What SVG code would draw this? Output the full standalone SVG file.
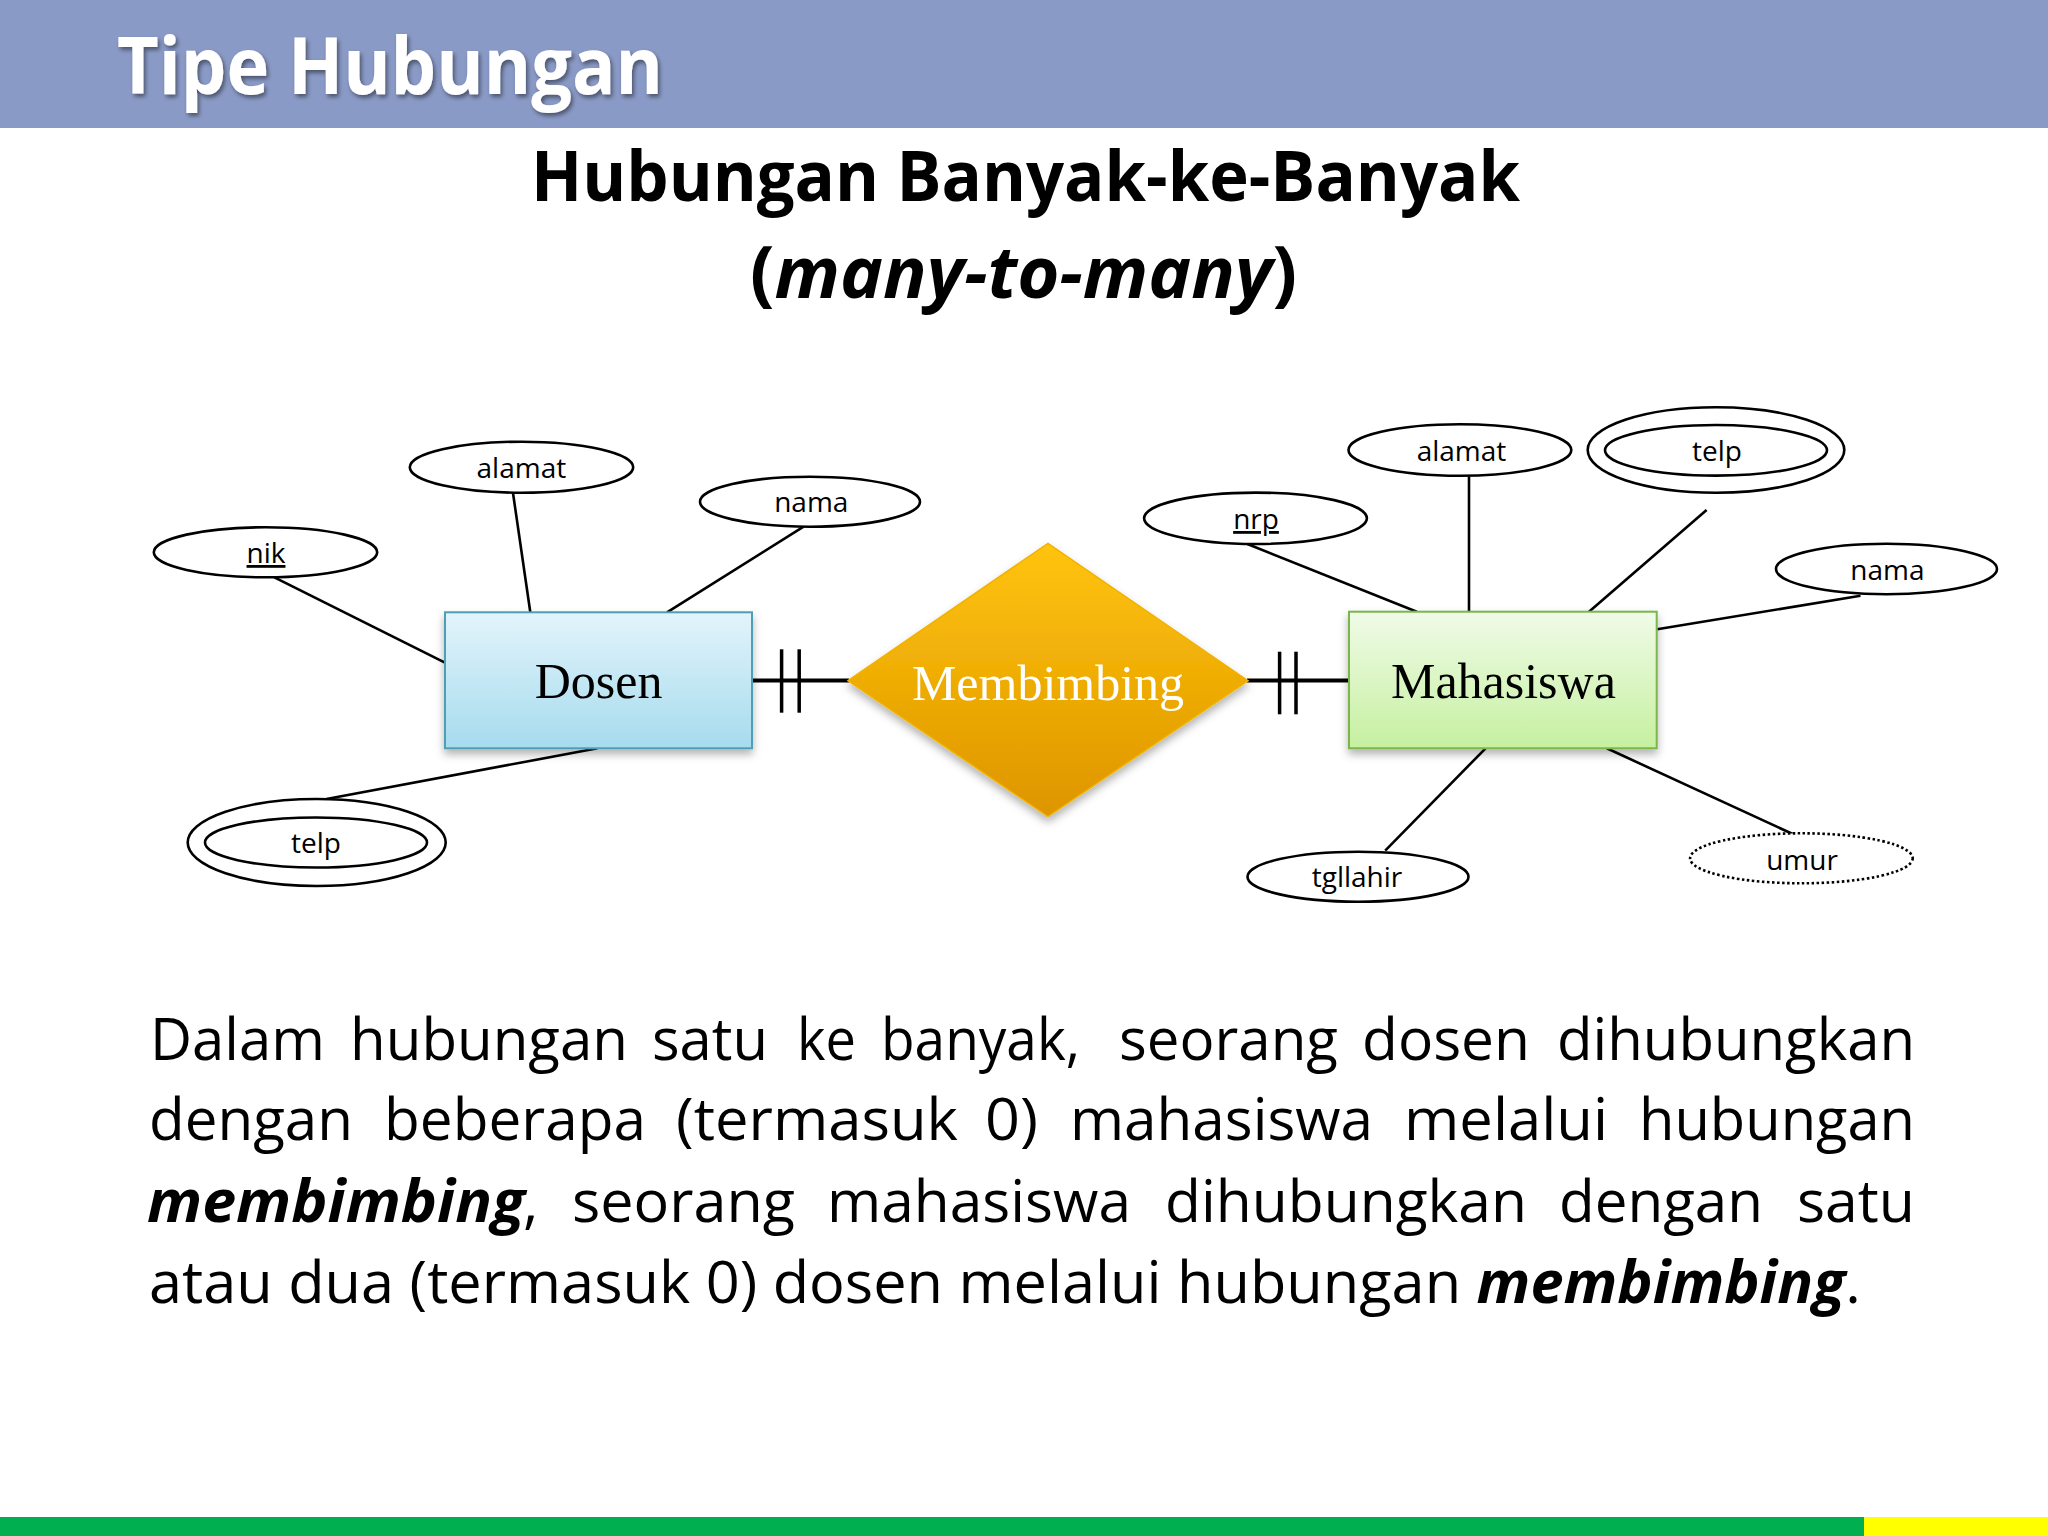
<svg xmlns="http://www.w3.org/2000/svg" width="2048" height="1536" viewBox="0 0 2048 1536">
<defs>
<style>
.attr{fill:#fff;stroke:#000;stroke-width:2.6}
.lbl{font-family:"Open Sans","Liberation Sans",sans-serif;font-size:28px;fill:#000;text-anchor:middle}
.ent{font-family:"Liberation Serif","Times New Roman",serif;font-size:50px;text-anchor:middle}
.ln{stroke:#000;stroke-width:2.6;fill:none}
.rel{stroke:#000;stroke-width:4;fill:none}
.bar{stroke:#000;stroke-width:3.5;fill:none}
.body{font-family:"Open Sans","Liberation Sans",sans-serif;font-size:59px;fill:#000}
.bi{font-weight:bold;font-style:italic}
</style>
<linearGradient id="gBlue" x1="0" y1="0" x2="0" y2="1">
<stop offset="0" stop-color="#e3f4fb"/><stop offset="1" stop-color="#a6dbee"/>
</linearGradient>
<linearGradient id="gGreen" x1="0" y1="0" x2="0" y2="1">
<stop offset="0" stop-color="#f0fbe8"/><stop offset="1" stop-color="#c6f0a0"/>
</linearGradient>
<linearGradient id="gOrange" x1="0" y1="0" x2="0" y2="1">
<stop offset="0" stop-color="#ffc40c"/><stop offset="1" stop-color="#de9500"/>
</linearGradient>
<filter id="sh" x="-20%" y="-20%" width="140%" height="150%">
<feDropShadow dx="0" dy="5" stdDeviation="4" flood-color="#000" flood-opacity="0.3"/>
</filter>
<filter id="tsh" x="-10%" y="-20%" width="120%" height="150%">
<feDropShadow dx="2" dy="3" stdDeviation="2" flood-color="#000" flood-opacity="0.45"/>
</filter>
</defs>
<rect width="2048" height="1536" fill="#fff"/>
<rect x="0" y="0" width="2048" height="128" fill="#8a9ac6"/>
<text x="117" y="94" font-family="'Open Sans','Liberation Sans',sans-serif" font-weight="bold" font-size="78" fill="#fff" textLength="546" lengthAdjust="spacingAndGlyphs" filter="url(#tsh)">Tipe Hubungan</text>
<text x="531" y="201" font-family="'Open Sans','Liberation Sans',sans-serif" font-weight="bold" font-size="70" fill="#000" textLength="989" lengthAdjust="spacingAndGlyphs">Hubungan Banyak-ke-Banyak</text>
<text x="750" y="298" font-family="'Open Sans','Liberation Sans',sans-serif" font-weight="bold" font-size="72" fill="#000" textLength="547" lengthAdjust="spacingAndGlyphs">(<tspan font-style="italic">many-to-many</tspan>)</text>

<g id="connectors">
<line class="ln" x1="274.4" y1="577.3" x2="444.9" y2="662.7"/>
<line class="ln" x1="513" y1="493" x2="530.3" y2="612.3"/>
<line class="ln" x1="803.6" y1="526.7" x2="667" y2="612.3"/>
<line class="ln" x1="597.5" y1="748.3" x2="326.5" y2="799"/>
<line class="ln" x1="1247.4" y1="544" x2="1416.8" y2="611.7"/>
<line class="ln" x1="1469" y1="476.3" x2="1469" y2="611.7"/>
<line class="ln" x1="1706.6" y1="510" x2="1589" y2="611.7"/>
<line class="ln" x1="1860.5" y1="595.7" x2="1657.2" y2="629.3"/>
<line class="ln" x1="1385.2" y1="850.7" x2="1485.6" y2="748.3"/>
<line class="ln" x1="1606.8" y1="748.3" x2="1792.7" y2="834"/>
<line class="rel" x1="752" y1="680.5" x2="849" y2="680.5"/>
<line class="bar" x1="781.6" y1="649.3" x2="781.6" y2="712.7"/>
<line class="bar" x1="799.2" y1="649.3" x2="799.2" y2="712.7"/>
<line class="rel" x1="1247" y1="680.5" x2="1349" y2="680.5"/>
<line class="bar" x1="1279.6" y1="651.7" x2="1279.6" y2="714.3"/>
<line class="bar" x1="1296" y1="651.7" x2="1296" y2="714.3"/>
</g>

<g id="dosen">
<rect x="445" y="612.3" width="307" height="136" fill="url(#gBlue)" stroke="#4d9fb6" stroke-width="2" filter="url(#sh)"/>
<text class="ent" x="598.6" y="698" fill="#000">Dosen</text>
</g>
<g id="membimbing">
<polygon points="848,680.7 1048,543.3 1248,680.7 1048,816.7" fill="url(#gOrange)" stroke="#f2b200" stroke-width="1.5" filter="url(#sh)"/>
<text class="ent" x="1048" y="700" font-size="51" fill="#fff">Membimbing</text>
</g>
<g id="mahasiswa">
<rect x="1349" y="611.7" width="307.7" height="136.6" fill="url(#gGreen)" stroke="#7ab648" stroke-width="2" filter="url(#sh)"/>
<text class="ent" x="1503.4" y="697.7" fill="#000">Mahasiswa</text>
</g>

<g id="d-nik">
<ellipse class="attr" cx="265.5" cy="552.3" rx="111.7" ry="25"/>
<text class="lbl" x="266" y="563" text-decoration="underline">nik</text>
</g>
<g id="d-alamat">
<ellipse class="attr" cx="521.5" cy="467.2" rx="111.7" ry="25.5"/>
<text class="lbl" x="521.4" y="478">alamat</text>
</g>
<g id="d-nama">
<ellipse class="attr" cx="810" cy="501.7" rx="110" ry="25"/>
<text class="lbl" x="811.3" y="511.7">nama</text>
</g>
<g id="d-telp">
<ellipse class="attr" cx="316.7" cy="842.5" rx="129" ry="43.5"/>
<ellipse class="attr" cx="316" cy="842.5" rx="111" ry="25"/>
<text class="lbl" x="316" y="853">telp</text>
</g>

<g id="m-nrp">
<ellipse class="attr" cx="1255.5" cy="518.3" rx="111.4" ry="25.7"/>
<text class="lbl" x="1256" y="529" text-decoration="underline">nrp</text>
</g>
<g id="m-alamat">
<ellipse class="attr" cx="1459.9" cy="450" rx="111.4" ry="25.7"/>
<text class="lbl" x="1461.5" y="460.7">alamat</text>
</g>
<g id="m-telp">
<ellipse class="attr" cx="1716" cy="450" rx="128.3" ry="42.7"/>
<ellipse class="attr" cx="1716" cy="450.3" rx="111" ry="25.3"/>
<text class="lbl" x="1717" y="461">telp</text>
</g>
<g id="m-nama">
<ellipse class="attr" cx="1886.5" cy="569" rx="110.5" ry="25.2"/>
<text class="lbl" x="1887.4" y="580">nama</text>
</g>
<g id="m-tgllahir">
<ellipse class="attr" cx="1358" cy="876.7" rx="110.5" ry="25"/>
<text class="lbl" x="1357" y="887">tgllahir</text>
</g>
<g id="m-umur">
<ellipse class="attr" cx="1801.4" cy="858.3" rx="111.3" ry="25" stroke-dasharray="2.5 2.5"/>
<text class="lbl" x="1802" y="870">umur</text>
</g>

<g id="body">
<text class="body" x="150" y="1060" textLength="175" lengthAdjust="spacingAndGlyphs">Dalam</text>
<text class="body" x="350" y="1060" textLength="278" lengthAdjust="spacingAndGlyphs">hubungan</text>
<text class="body" x="652" y="1060" textLength="116" lengthAdjust="spacingAndGlyphs">satu</text>
<text class="body" x="797" y="1060" textLength="59" lengthAdjust="spacingAndGlyphs">ke</text>
<text class="body" x="881" y="1060" textLength="199" lengthAdjust="spacingAndGlyphs">banyak,</text>
<text class="body" x="1119" y="1060" textLength="219" lengthAdjust="spacingAndGlyphs">seorang</text>
<text class="body" x="1362" y="1060" textLength="168" lengthAdjust="spacingAndGlyphs">dosen</text>
<text class="body" x="1557" y="1060" textLength="358" lengthAdjust="spacingAndGlyphs">dihubungkan</text>

<text class="body" x="149" y="1140" textLength="204" lengthAdjust="spacingAndGlyphs">dengan</text>
<text class="body" x="384" y="1140" textLength="262" lengthAdjust="spacingAndGlyphs">beberapa</text>
<text class="body" x="676" y="1140" textLength="282" lengthAdjust="spacingAndGlyphs">(termasuk</text>
<text class="body" x="985" y="1140" textLength="53" lengthAdjust="spacingAndGlyphs">0)</text>
<text class="body" x="1070" y="1140" textLength="303" lengthAdjust="spacingAndGlyphs">mahasiswa</text>
<text class="body" x="1404" y="1140" textLength="204" lengthAdjust="spacingAndGlyphs">melalui</text>
<text class="body" x="1639" y="1140" textLength="276" lengthAdjust="spacingAndGlyphs">hubungan</text>

<text class="body bi" x="147" y="1222" textLength="378" lengthAdjust="spacingAndGlyphs">membimbing</text>
<text class="body" x="523" y="1222">,</text>
<text class="body" x="572" y="1222" textLength="223" lengthAdjust="spacingAndGlyphs">seorang</text>
<text class="body" x="827" y="1222" textLength="304" lengthAdjust="spacingAndGlyphs">mahasiswa</text>
<text class="body" x="1165" y="1222" textLength="362" lengthAdjust="spacingAndGlyphs">dihubungkan</text>
<text class="body" x="1559" y="1222" textLength="204" lengthAdjust="spacingAndGlyphs">dengan</text>
<text class="body" x="1797" y="1222" textLength="118" lengthAdjust="spacingAndGlyphs">satu</text>

<text class="body" x="149" y="1303" textLength="1712" lengthAdjust="spacingAndGlyphs">atau dua (termasuk 0) dosen melalui hubungan <tspan class="bi">membimbing</tspan>.</text>
</g>

<rect x="0" y="1517" width="1864" height="19" fill="#00b050"/>
<rect x="1864" y="1517" width="184" height="19" fill="#ffff00"/>
</svg>
